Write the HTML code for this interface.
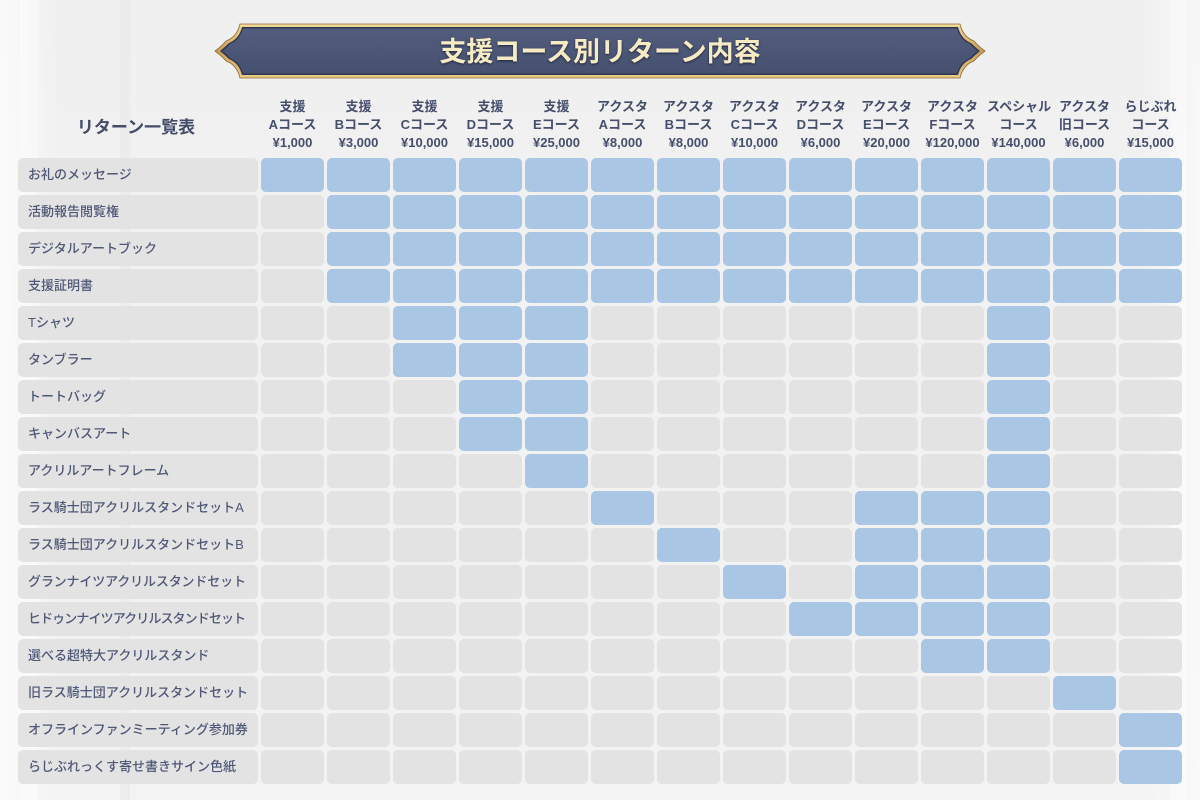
<!DOCTYPE html>
<html lang="ja">
<head>
<meta charset="utf-8">
<style>
  html,body{margin:0;padding:0;}
  body{width:1200px;height:800px;overflow:hidden;position:relative;
    background:#f1f1f1;
    font-family:"Liberation Sans","Noto Sans CJK JP",sans-serif;}
  .bg{position:absolute;left:0;top:0;width:1200px;height:800px;
    background:
      linear-gradient(90deg, rgba(255,255,255,0.7) 0px, rgba(255,255,255,0) 60px, rgba(255,255,255,0) 1140px, rgba(255,255,255,0.5) 1200px),
      linear-gradient(180deg,#f0f0f0 0%,#f2f2f2 50%,#f3f3f3 100%);}
  .strip{position:absolute;top:0;height:800px;background:rgba(255,255,255,0.35);}
  .title-svg{position:absolute;left:0;top:0;}
  .title{position:absolute;left:228px;width:744px;top:33px;height:38px;line-height:38px;text-align:center;
    font-family:"Liberation Sans","Noto Sans CJK JP",sans-serif;font-weight:700;font-size:27px;color:#f6ebc3;
    text-shadow:0 1px 2px rgba(20,25,45,0.8);letter-spacing:0px;}
  .ichiran{position:absolute;left:16px;width:240px;top:116px;height:24px;line-height:24px;text-align:center;
    font-weight:700;font-size:17px;color:#434c69;}
  .hdr{position:absolute;left:261px;top:98px;display:grid;grid-template-columns:repeat(14,63px);column-gap:3px;}
  .hdr div{text-align:center;font-weight:700;font-size:13px;line-height:18px;color:#454e6c;white-space:nowrap;}
  .grid{position:absolute;left:18px;top:158px;display:grid;grid-template-columns:240px repeat(14,63px);
    column-gap:3px;row-gap:3px;grid-auto-rows:34px;}
  .grid div{border-radius:5px;background:#e3e3e3;}
  .grid .l{font-size:13px;color:#4f5877;line-height:34px;padding-left:10px;box-sizing:border-box;white-space:nowrap;font-weight:500;overflow:hidden;}
  .grid .b{background:#a9c6e4;}
</style>
</head>
<body>
<div class="bg"></div>
<div class="strip" style="left:20px;width:18px;"></div>
<div class="strip" style="left:120px;width:10px;background:rgba(225,225,225,0.3)"></div>
<div class="strip" style="left:1170px;width:16px;"></div>

<svg class="title-svg" width="1200" height="100" viewBox="0 0 1200 100">
  <defs>
    <linearGradient id="gold" x1="0" y1="0" x2="0" y2="1">
      <stop offset="0" stop-color="#f3dc9a"/>
      <stop offset="0.5" stop-color="#c99e55"/>
      <stop offset="1" stop-color="#e9cc86"/>
    </linearGradient>
    <linearGradient id="navy" x1="0" y1="0" x2="0" y2="1">
      <stop offset="0" stop-color="#525d7e"/>
      <stop offset="1" stop-color="#46506f"/>
    </linearGradient>
  </defs>
  <path d="M240,24 H960 Q963,37 974,41 Q978,46 985,51 Q978,56 974,61 Q963,65 960,78 H240 Q237,65 226,61 Q222,56 215,51 Q222,46 226,41 Q237,37 240,24 Z" fill="url(#gold)" stroke="#8a6a35" stroke-width="0.8"/>
  <path d="M242,27 H958 Q961,39 971,43 Q975,47 980,51 Q975,55 971,59 Q961,63 958,75 H242 Q239,63 229,59 Q225,55 220,51 Q225,47 229,43 Q239,39 242,27 Z" fill="#2f3752"/>
  <path d="M243,28.5 H957 Q960,40 970,44 Q973,48 978,51 Q973,54 970,58 Q960,62 957,73.5 H243 Q240,62 230,58 Q227,54 222,51 Q227,48 230,44 Q240,40 243,28.5 Z" fill="url(#navy)"/>
</svg>
<div class="title">支援コース別リターン内容</div>

<div class="ichiran">リターン一覧表</div>

<div class="hdr">
  <div>支援<br>Aコース<br>¥1,000</div>
  <div>支援<br>Bコース<br>¥3,000</div>
  <div>支援<br>Cコース<br>¥10,000</div>
  <div>支援<br>Dコース<br>¥15,000</div>
  <div>支援<br>Eコース<br>¥25,000</div>
  <div>アクスタ<br>Aコース<br>¥8,000</div>
  <div>アクスタ<br>Bコース<br>¥8,000</div>
  <div>アクスタ<br>Cコース<br>¥10,000</div>
  <div>アクスタ<br>Dコース<br>¥6,000</div>
  <div>アクスタ<br>Eコース<br>¥20,000</div>
  <div>アクスタ<br>Fコース<br>¥120,000</div>
  <div>スペシャル<br>コース<br>¥140,000</div>
  <div>アクスタ<br>旧コース<br>¥6,000</div>
  <div>らじぶれ<br>コース<br>¥15,000</div>
</div>

<div class="grid">
  <!-- 1 -->
  <div class="l">お礼のメッセージ</div>
  <div class="b"></div><div class="b"></div><div class="b"></div><div class="b"></div><div class="b"></div><div class="b"></div><div class="b"></div><div class="b"></div><div class="b"></div><div class="b"></div><div class="b"></div><div class="b"></div><div class="b"></div><div class="b"></div>
  <!-- 2 -->
  <div class="l">活動報告閲覧権</div>
  <div></div><div class="b"></div><div class="b"></div><div class="b"></div><div class="b"></div><div class="b"></div><div class="b"></div><div class="b"></div><div class="b"></div><div class="b"></div><div class="b"></div><div class="b"></div><div class="b"></div><div class="b"></div>
  <!-- 3 -->
  <div class="l">デジタルアートブック</div>
  <div></div><div class="b"></div><div class="b"></div><div class="b"></div><div class="b"></div><div class="b"></div><div class="b"></div><div class="b"></div><div class="b"></div><div class="b"></div><div class="b"></div><div class="b"></div><div class="b"></div><div class="b"></div>
  <!-- 4 -->
  <div class="l">支援証明書</div>
  <div></div><div class="b"></div><div class="b"></div><div class="b"></div><div class="b"></div><div class="b"></div><div class="b"></div><div class="b"></div><div class="b"></div><div class="b"></div><div class="b"></div><div class="b"></div><div class="b"></div><div class="b"></div>
  <!-- 5 -->
  <div class="l">Tシャツ</div>
  <div></div><div></div><div class="b"></div><div class="b"></div><div class="b"></div><div></div><div></div><div></div><div></div><div></div><div></div><div class="b"></div><div></div><div></div>
  <!-- 6 -->
  <div class="l">タンブラー</div>
  <div></div><div></div><div class="b"></div><div class="b"></div><div class="b"></div><div></div><div></div><div></div><div></div><div></div><div></div><div class="b"></div><div></div><div></div>
  <!-- 7 -->
  <div class="l">トートバッグ</div>
  <div></div><div></div><div></div><div class="b"></div><div class="b"></div><div></div><div></div><div></div><div></div><div></div><div></div><div class="b"></div><div></div><div></div>
  <!-- 8 -->
  <div class="l">キャンバスアート</div>
  <div></div><div></div><div></div><div class="b"></div><div class="b"></div><div></div><div></div><div></div><div></div><div></div><div></div><div class="b"></div><div></div><div></div>
  <!-- 9 -->
  <div class="l">アクリルアートフレーム</div>
  <div></div><div></div><div></div><div></div><div class="b"></div><div></div><div></div><div></div><div></div><div></div><div></div><div class="b"></div><div></div><div></div>
  <!-- 10 -->
  <div class="l">ラス騎士団アクリルスタンドセットA</div>
  <div></div><div></div><div></div><div></div><div></div><div class="b"></div><div></div><div></div><div></div><div class="b"></div><div class="b"></div><div class="b"></div><div></div><div></div>
  <!-- 11 -->
  <div class="l">ラス騎士団アクリルスタンドセットB</div>
  <div></div><div></div><div></div><div></div><div></div><div></div><div class="b"></div><div></div><div></div><div class="b"></div><div class="b"></div><div class="b"></div><div></div><div></div>
  <!-- 12 -->
  <div class="l" style="letter-spacing:-0.15px">グランナイツアクリルスタンドセット</div>
  <div></div><div></div><div></div><div></div><div></div><div></div><div></div><div class="b"></div><div></div><div class="b"></div><div class="b"></div><div class="b"></div><div></div><div></div>
  <!-- 13 -->
  <div class="l" style="letter-spacing:-0.9px">ヒドゥンナイツアクリルスタンドセット</div>
  <div></div><div></div><div></div><div></div><div></div><div></div><div></div><div></div><div class="b"></div><div class="b"></div><div class="b"></div><div class="b"></div><div></div><div></div>
  <!-- 14 -->
  <div class="l">選べる超特大アクリルスタンド</div>
  <div></div><div></div><div></div><div></div><div></div><div></div><div></div><div></div><div></div><div></div><div class="b"></div><div class="b"></div><div></div><div></div>
  <!-- 15 -->
  <div class="l">旧ラス騎士団アクリルスタンドセット</div>
  <div></div><div></div><div></div><div></div><div></div><div></div><div></div><div></div><div></div><div></div><div></div><div></div><div class="b"></div><div></div>
  <!-- 16 -->
  <div class="l">オフラインファンミーティング参加券</div>
  <div></div><div></div><div></div><div></div><div></div><div></div><div></div><div></div><div></div><div></div><div></div><div></div><div></div><div class="b"></div>
  <!-- 17 -->
  <div class="l">らじぶれっくす寄せ書きサイン色紙</div>
  <div></div><div></div><div></div><div></div><div></div><div></div><div></div><div></div><div></div><div></div><div></div><div></div><div></div><div class="b"></div>
</div>
</body>
</html>
